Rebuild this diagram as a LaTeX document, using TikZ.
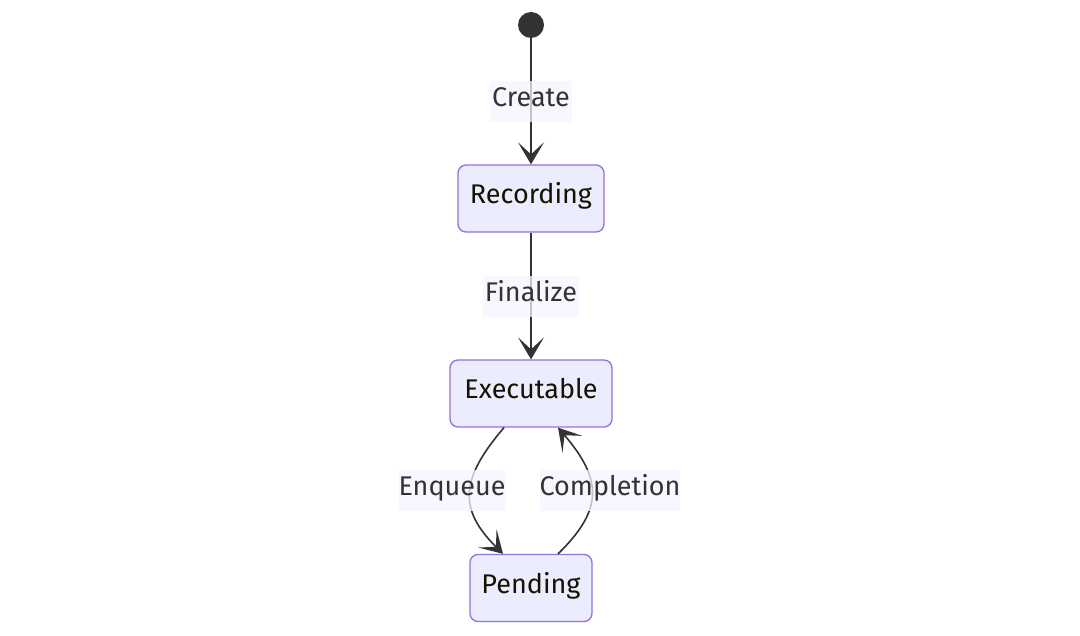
\documentclass[tikz,border=0pt]{standalone}
\usepackage{fontspec}
\setmainfont{Fira Sans}
\usetikzlibrary{arrows.meta}
\definecolor{nodefill}{HTML}{ECECFF}
\definecolor{nodeline}{HTML}{9370DB}
\definecolor{edge}{HTML}{333333}
\definecolor{lblfill}{HTML}{F4F4FF}
\definecolor{txt}{HTML}{131300}
\newcommand{\up}[1]{\raisebox{-5pt}[0pt][0pt]{#1}}
\tikzset{
  x=1pt, y=-1pt,
  state/.style={draw=nodeline, fill=nodefill, line width=1.3pt, rounded corners=8pt,
    minimum height=67pt, inner sep=0pt, text=txt, font=\fontsize{27}{30}\selectfont},
  lbl/.style={fill=lblfill, fill opacity=0.75, text opacity=1, text=edge, inner sep=0pt,
    minimum height=41pt, font=\fontsize{27}{30}\selectfont},
  trans/.style={draw=edge, line width=1.6pt, -{Stealth[length=22pt,width=26pt,inset=12pt]}},
}
\begin{document}
\begin{tikzpicture}
\useasboundingbox (0,0) rectangle (1080,636);
\node[circle, fill=edge, minimum size=26pt, inner sep=0pt] (start) at (531,25) {};
\node[state, minimum width=146pt] (rec) at (531,198.5) {\up{Recording}};
\node[state, minimum width=162pt] (exe) at (531,393.5) {\up{Executable}};
\node[state, minimum width=122pt] (pen) at (531,588) {\up{Pending}};

\draw[trans] (start) -- (rec.north);
\draw[trans] (rec.south) -- (exe.north);
\draw[trans] ([xshift=-27pt]exe.south) .. controls (459,480) and (459,510) .. ([xshift=-28pt]pen.north);
\draw[trans] ([xshift=27pt]pen.north) .. controls (603,510) and (603,480) .. ([xshift=27pt]exe.south);

\node[lbl, minimum width=82pt] (lcreate) at (531,101.5) {\up{Create}};
\node[lbl, minimum width=96pt] (lfin) at (531,296.5) {\up{Finalize}};
\node[lbl, minimum width=104pt] (lenq) at (452,490.5) {\up{Enqueue}};
\node[lbl, minimum width=140pt] (lcomp) at (610,490.5) {\up{Completion}};
\end{tikzpicture}
\end{document}
